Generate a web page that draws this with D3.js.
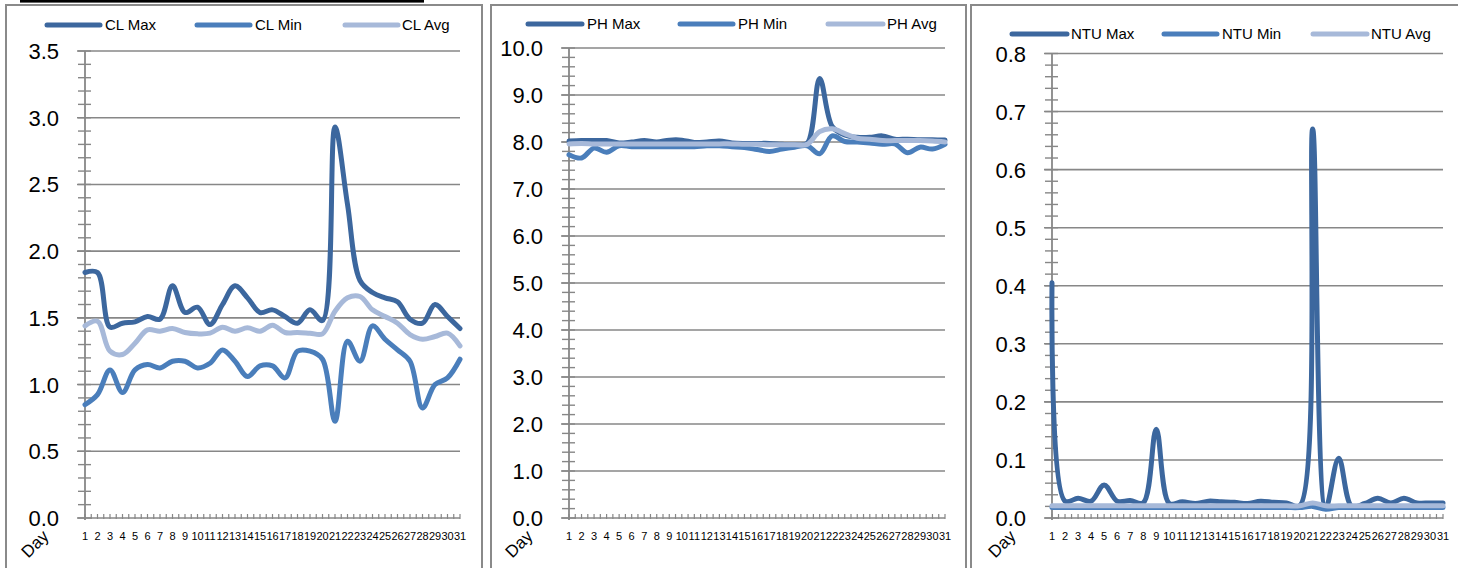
<!DOCTYPE html>
<html>
<head>
<meta charset="utf-8">
<script src="https://cdn.jsdelivr.net/npm/d3@7"></script>
<style>
  html, body { margin: 0; padding: 0; background: #fff; }
  svg { display: block; }
</style>
</head>
<body>
<svg id="chart" width="1458" height="568"></svg>
<script>
const days = ["1","2","3","4","5","6","7","8","9","10","11","12","13","14","15","16","17","18","19","20","21","22","23","24","25","26","27","28","29","30","31"];

const clMax = [1.84,1.84,1.43,1.46,1.47,1.51,1.49,1.74,1.54,1.58,1.45,1.60,1.74,1.65,1.54,1.56,1.51,1.46,1.56,1.48,2.93,2.35,1.78,1.69,1.65,1.62,1.49,1.46,1.60,1.51,1.42];
const clMin = [0.85,0.925,1.11,0.94,1.11,1.15,1.125,1.175,1.175,1.125,1.16,1.26,1.175,1.06,1.14,1.14,1.05,1.25,1.25,1.19,0.725,1.325,1.175,1.44,1.34,1.26,1.175,0.825,1.0,1.05,1.19];
const clAvg = [1.44,1.475,1.25,1.225,1.31,1.41,1.40,1.42,1.39,1.38,1.385,1.43,1.40,1.425,1.40,1.445,1.39,1.39,1.385,1.38,1.55,1.65,1.66,1.56,1.51,1.46,1.375,1.34,1.36,1.385,1.29];

const phMax = [8.02,8.03,8.03,8.03,7.98,8.0,8.03,8.0,8.04,8.04,7.99,8.0,8.02,7.98,7.97,7.97,7.97,7.95,7.94,7.97,9.35,8.33,8.15,8.1,8.1,8.13,8.06,8.06,8.05,8.05,8.04];
const phMin = [7.73,7.66,7.87,7.78,7.92,7.9,7.9,7.9,7.9,7.9,7.9,7.92,7.92,7.9,7.88,7.84,7.8,7.85,7.89,7.92,7.75,8.13,8.01,8.0,7.98,7.95,7.96,7.77,7.89,7.85,7.95];
const phAvg = [7.96,7.97,7.96,7.96,7.96,7.96,7.96,7.96,7.96,7.96,7.96,7.96,7.96,7.96,7.95,7.95,7.94,7.94,7.94,7.95,8.22,8.28,8.18,8.08,8.06,8.03,8.03,8.03,8.03,8.02,8.0];

const ntuMax = [0.405,0.029,0.034,0.029,0.057,0.029,0.03,0.026,0.153,0.025,0.028,0.025,0.029,0.028,0.027,0.025,0.029,0.027,0.026,0.021,0.67,0.017,0.103,0.02,0.025,0.034,0.026,0.034,0.026,0.026,0.026];
const ntuMin = [0.018,0.018,0.018,0.018,0.018,0.018,0.018,0.018,0.018,0.018,0.018,0.018,0.018,0.018,0.018,0.018,0.018,0.018,0.018,0.018,0.02,0.015,0.018,0.018,0.018,0.018,0.018,0.018,0.018,0.018,0.018];
const ntuAvg = [0.021,0.021,0.021,0.021,0.021,0.021,0.021,0.021,0.021,0.021,0.021,0.021,0.021,0.021,0.021,0.021,0.021,0.021,0.021,0.021,0.026,0.021,0.021,0.021,0.021,0.021,0.021,0.021,0.021,0.021,0.021];

const clTicks = [0,0.5,1.0,1.5,2.0,2.5,3.0,3.5];
const phTicks = [0,1,2,3,4,5,6,7,8,9,10];
const ntuTicks = [0,0.1,0.2,0.3,0.4,0.5,0.6,0.7,0.8];

const seriesColors = ["#3c679e", "#4a7ebb", "#a7b9d9"];
const font = "'Liberation Sans', Arial, sans-serif";

const svg = d3.select("#chart");

// black line at top-left
svg.append("rect").attr("x", 20).attr("y", 0).attr("width", 404).attr("height", 2.6).attr("fill", "#000");

const panels = [
  { name: "CL", series: [clMax, clMin, clAvg], ticks: clTicks, minor: 0.1, max: 3.5,
    box: [6, 5, 482], x0: 85, x1: 460, yTop: 51, legendY: 25,
    legend: [[47,100,105],[197,250,255],[345,398,402]] },
  { name: "PH", series: [phMax, phMin, phAvg], ticks: phTicks, minor: 0.2, max: 10,
    box: [491, 5, 966], x0: 569, x1: 945, yTop: 48, legendY: 24,
    legend: [[528,582,587],[680,733,738],[828,883,887]] },
  { name: "NTU", series: [ntuMax, ntuMin, ntuAvg], ticks: ntuTicks, minor: 0.02, max: 0.8,
    box: [971, 5, 1462], x0: 1052, x1: 1443, yTop: 53.5, legendY: 34,
    legend: [[1012,1067,1071],[1164,1217,1222],[1313,1367,1371]] }
];

const yBottom = 518;
const gridColor = "#878787";

panels.forEach(p => {
  const g = svg.append("g");
  // border
  g.append("path")
    .attr("d", `M${p.box[0]},570 V${p.box[1]} H${p.box[2]} V570`)
    .attr("fill", "none").attr("stroke", "#8a8a8a").attr("stroke-width", 2);

  const x = d3.scalePoint().domain(days).range([p.x0, p.x1]);
  const y = d3.scaleLinear().domain([0, p.max]).range([yBottom, p.yTop]);

  // gridlines
  g.selectAll(".grid").data(p.ticks).enter().append("line")
    .attr("x1", p.x0 - 8).attr("x2", p.x1)
    .attr("y1", d => y(d)).attr("y2", d => y(d))
    .attr("stroke", gridColor).attr("stroke-width", 1.6);

  // minor ticks on y axis
  const nMinor = Math.round(p.max / p.minor);
  const minorVals = d3.range(0, nMinor + 1).map(i => i * p.minor);
  g.selectAll(".minor").data(minorVals).enter().append("line")
    .attr("x1", p.x0 - 7).attr("x2", p.x0 + 6)
    .attr("y1", d => y(d)).attr("y2", d => y(d))
    .attr("stroke", gridColor).attr("stroke-width", 1.4);

  // y axis line
  g.append("line").attr("x1", p.x0).attr("x2", p.x0).attr("y1", y(p.max)).attr("y2", yBottom + 2)
    .attr("stroke", gridColor).attr("stroke-width", 1.8);

  // y tick labels
  g.selectAll(".ylab").data(p.ticks).enter().append("text")
    .attr("x", p.x0 - 26).attr("y", d => y(d) + 8)
    .attr("text-anchor", "end")
    .attr("font-family", font).attr("font-size", 22).attr("fill", "#000")
    .text(d => d3.format(".1f")(d));

  // x axis ticks at days and half-days
  const step = x.step();
  const halfTicks = d3.range(0, days.length * 2 - 1).map(i => p.x0 + i * step / 2);
  g.selectAll(".xt").data(halfTicks).enter().append("line")
    .attr("x1", d => d).attr("x2", d => d)
    .attr("y1", yBottom - 4).attr("y2", yBottom + 1)
    .attr("stroke", gridColor).attr("stroke-width", 1.2);

  // x tick labels
  g.selectAll(".xlab").data(days).enter().append("text")
    .attr("x", d => x(d)).attr("y", 540)
    .attr("text-anchor", "middle")
    .attr("font-family", font).attr("font-size", 11).attr("fill", "#000")
    .text(d => d);

  // "Day" label
  g.append("text")
    .attr("transform", `translate(${p.x0 - 46},${548}) rotate(-45)`)
    .attr("text-anchor", "middle")
    .attr("font-family", font).attr("font-size", 17).attr("fill", "#000")
    .text("Day");

  // lines
  const line = d3.line()
    .x((d, i) => x(days[i]))
    .y(d => y(d))
    .curve(d3.curveCatmullRom.alpha(0.5));

  p.series.forEach((s, k) => {
    g.append("path").datum(s)
      .attr("d", line)
      .attr("fill", "none")
      .attr("stroke", seriesColors[k])
      .attr("stroke-width", 5)
      .attr("stroke-linejoin", "round")
      .attr("stroke-linecap", "round");
  });

  // legend
  const names = [p.name + " Max", p.name + " Min", p.name + " Avg"];
  names.forEach((n, k) => {
    const L = p.legend[k];
    g.append("line").attr("x1", L[0]).attr("x2", L[1])
      .attr("y1", p.legendY).attr("y2", p.legendY)
      .attr("stroke", seriesColors[k]).attr("stroke-width", 5).attr("stroke-linecap", "round");
    g.append("text").attr("x", L[2]).attr("y", p.legendY + 5)
      .attr("font-family", font).attr("font-size", 15).attr("fill", "#000")
      .text(n);
  });
});
</script>
</body>
</html>
